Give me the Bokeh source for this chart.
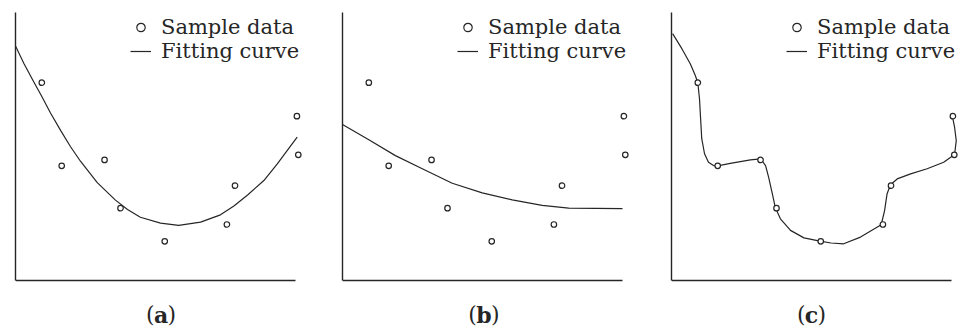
from bokeh.plotting import figure
from bokeh.models import Legend, LegendItem, Label, FixedTicker, Range1d
from bokeh.layouts import row
from bokeh.embed import file_html
from bokeh.resources import INLINE

# sample data (shared by the three panels)
sample_x = [0.94, 1.65, 3.18, 3.75, 5.33, 7.55, 7.84, 10.05, 10.10]
sample_y = [7.38, 4.28, 4.50, 2.70, 1.46, 2.09, 3.54, 6.13, 4.69]

# (a) quadratic fitting curve
curve_a_x = [0.0, 0.30, 0.63, 0.95, 1.25, 1.61, 1.96, 2.32, 2.92, 3.57, 4.00, 4.46,
             5.18, 5.83, 6.61, 7.32, 7.80, 8.30, 8.87, 9.35, 10.06]
curve_a_y = [8.75, 8.10, 7.45, 6.85, 6.25, 5.60, 5.00, 4.45, 3.65, 3.00, 2.65, 2.36,
             2.14, 2.06, 2.18, 2.45, 2.78, 3.20, 3.73, 4.35, 5.35]

# (b) under-fitting curve
curve_b_x = [0.0, 0.94, 1.89, 2.85, 3.92, 4.99, 6.06, 7.13, 8.08, 10.0]
curve_b_y = [5.82, 5.25, 4.66, 4.17, 3.63, 3.27, 3.01, 2.80, 2.70, 2.68]

# (c) over-fitting curve
curve_c_x = [0.04, 0.37, 0.67, 0.85, 0.94, 1.00, 1.04, 1.08, 1.18, 1.32, 1.50, 1.65,
             2.10, 2.82, 3.18, 3.36, 3.47, 3.60, 3.71, 3.89, 4.25, 4.73, 5.30, 5.70,
             6.15, 6.75, 7.49, 7.61, 7.70, 7.82, 8.06, 8.54, 9.13, 9.72, 10.11, 10.17,
             10.11, 10.03]
curve_c_y = [9.21, 8.65, 8.09, 7.65, 7.38, 6.78, 6.03, 5.29, 4.73, 4.41, 4.29, 4.28,
             4.37, 4.50, 4.54, 4.29, 3.85, 3.24, 2.71, 2.30, 1.87, 1.59, 1.47, 1.40,
             1.37, 1.62, 2.08, 2.61, 3.24, 3.57, 3.79, 3.98, 4.17, 4.41, 4.70, 5.22,
             5.72, 6.13]

legend_labels = ["Sample data", "Fitting curve"]
panel_letters = ["a", "b", "c"]

INK = "#262626"
FONT = "DejaVu Serif"
PX_X = 28.0
PX_Y = 26.8
H = 329
AXIS_BOTTOM = 280


def panel(cx, cy, letter, left_border, width, cap_x, letter_w):
    frame_w = width - left_border
    p = figure(width=width, height=H, output_backend="svg", toolbar_location=None,
               x_range=Range1d(0, frame_w / PX_X),
               y_range=Range1d(-(H - AXIS_BOTTOM) / PX_Y, AXIS_BOTTOM / PX_Y),
               min_border_left=left_border, min_border_right=0,
               min_border_top=0, min_border_bottom=0)
    p.outline_line_color = None
    p.grid.visible = False
    p.background_fill_color = "white"
    p.border_fill_color = "white"
    for ax in (p.xaxis[0], p.yaxis[0]):
        ax.ticker = FixedTicker(ticks=[])
        ax.bounds = (0, 10)
        ax.axis_line_color = INK
        ax.axis_line_width = 1.4
        ax.major_tick_out = 0
        ax.major_tick_in = 0
        ax.minor_tick_out = 0
        ax.minor_tick_in = 0
        ax.major_label_text_font_size = "0px"
        ax.major_label_standoff = 0
    p.xaxis[0].fixed_location = 0

    ln = p.line(cx, cy, line_color=INK, line_width=1.2, line_join="round")
    sc = p.scatter(sample_x, sample_y, marker="circle", size=5.5,
                   line_color=INK, line_width=1.2, fill_color="white")

    legend = Legend(items=[LegendItem(label=legend_labels[0], renderers=[sc]),
                           LegendItem(label=legend_labels[1], renderers=[ln])],
                    location=(115, 266), padding=0, margin=0, spacing=0,
                    glyph_width=21, glyph_height=24, label_height=24,
                    label_standoff=10, label_text_font=FONT,
                    label_text_font_size="21px", label_text_color=INK,
                    background_fill_alpha=0, border_line_alpha=0)
    p.add_layout(legend)

    cy0 = -1.27
    p.add_layout(Label(x=cap_x, y=cy0, text=letter, text_font=FONT, text_font_style="bold",
                       text_font_size="22px", text_align="center", text_baseline="middle",
                       text_color=INK))
    p.add_layout(Label(x=cap_x, y=cy0, text="(", text_font=FONT, x_offset=-letter_w / 2,
                       text_font_size="22px", text_align="right", text_baseline="middle",
                       text_color=INK))
    p.add_layout(Label(x=cap_x, y=cy0, text=")", text_font=FONT, x_offset=letter_w / 2,
                       text_font_size="22px", text_align="left", text_baseline="middle",
                       text_color=INK))
    return p


pa = panel(curve_a_x, curve_a_y, panel_letters[0], 15, 320, 5.2, 13)
pb = panel(curve_b_x, curve_b_y, panel_letters[1], 22, 320, 5.05, 14)
pc = panel(curve_c_x, curve_c_y, panel_letters[2], 31, 320, 5.0, 12)

layout = row(pa, pb, pc, spacing=0)
open("out.html", "w").write(file_html(layout, INLINE))
